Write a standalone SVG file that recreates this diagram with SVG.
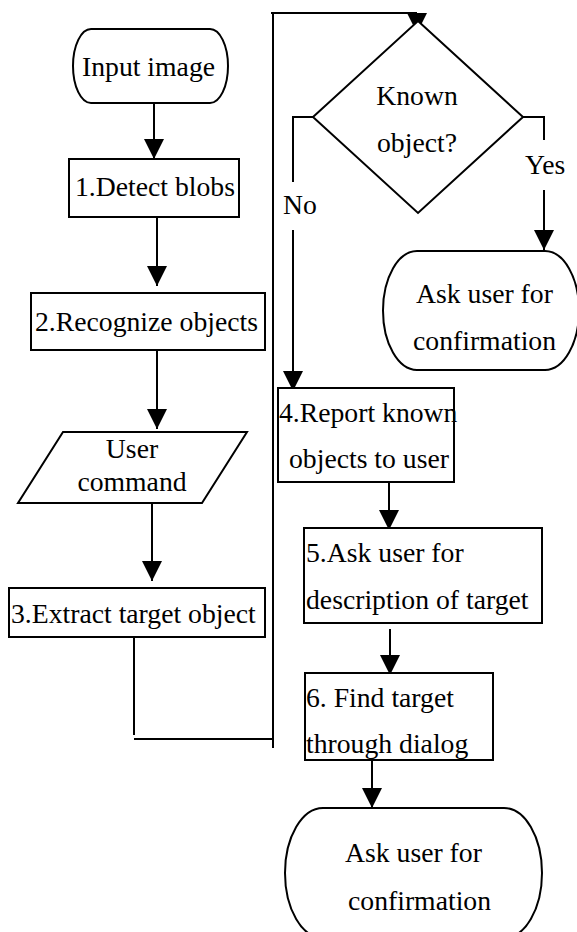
<svg xmlns="http://www.w3.org/2000/svg" width="577" height="932" viewBox="0 0 577 932">
<defs>
<marker id="ah" markerUnits="userSpaceOnUse" markerWidth="20" markerHeight="20" refX="20" refY="10" orient="auto" viewBox="0 0 20 20">
<path d="M0,0 L20,10 L0,20 Z" fill="#000"/>
</marker>
<style>
.s{fill:#fff;stroke:#000;stroke-width:2}
.c{fill:none;stroke:#000;stroke-width:2}
.a{marker-end:url(#ah)}
text{font-family:"Liberation Serif","Times New Roman",serif;font-size:27.7px;fill:#000}
.m{text-anchor:middle}
</style>
</defs>
<rect width="577" height="932" fill="#fff"/>
<g id="connectors">
<line class="c a" x1="154" y1="103" x2="154" y2="159"/>
<line class="c a" x1="157" y1="217" x2="157" y2="286"/>
<line class="c a" x1="157" y1="350" x2="157" y2="429"/>
<line class="c a" x1="152" y1="503" x2="152" y2="581"/>
<polyline class="c" points="134,637 134,735"/>
<polyline class="c" points="134,739 273,739"/>
<polyline class="c" points="273,748 273,13"/>
<polyline class="c" points="271,13 417,13"/>
<polygon points="407,13 427,13 417,33" fill="#000"/>
<polyline class="c" points="313,117 293,117 293,182"/>
<line class="c a" x1="293" y1="230" x2="293" y2="391"/>
<polyline class="c" points="523,117 544,117 544,140"/>
<line class="c a" x1="544" y1="190" x2="544" y2="250"/>
<line class="c a" x1="389" y1="482" x2="389" y2="530"/>
<line class="c a" x1="390" y1="629" x2="390" y2="675"/>
<line class="c a" x1="372" y1="757" x2="372" y2="808"/>
<text x="283" y="214">No</text>
<text x="525" y="174">Yes</text>
</g>
<g id="input">
<rect class="s" x="73" y="29" width="155" height="74" rx="18" ry="37"/>
<text x="82" y="76">Input image</text>
</g>
<g id="detect">
<rect class="s" x="69" y="159" width="170" height="58"/>
<text x="75" y="196">1.Detect blobs</text>
</g>
<g id="recognize">
<rect class="s" x="31" y="293" width="234" height="57"/>
<text x="35" y="331">2.Recognize objects</text>
</g>
<g id="command">
<polygon class="s" points="63,432 247,432 202,503 18,503"/>
<text class="m" x="132" y="458">User</text>
<text class="m" x="132" y="491">command</text>
</g>
<g id="extract">
<rect class="s" x="9" y="588" width="256" height="49"/>
<text x="11" y="623">3.Extract target object</text>
</g>
<g id="known">
<polygon class="s" points="418,21 523,117 418,213 313,117"/>
<text class="m" x="417" y="105">Known</text>
<text class="m" x="417" y="152">object?</text>
</g>
<g id="confirm1">
<rect class="s" x="383" y="251" width="196" height="119" rx="34" ry="59.5"/>
<text x="416" y="303">Ask user for</text>
<text x="413" y="350">confirmation</text>
</g>
<g id="report">
<rect class="s" x="278" y="388" width="176" height="94"/>
<text x="279" y="422">4.Report known</text>
<text x="289" y="468">objects to user</text>
</g>
<g id="ask">
<rect class="s" x="304" y="528" width="238" height="95"/>
<text x="306" y="562">5.Ask user for</text>
<text x="306" y="609">description of target</text>
</g>
<g id="find">
<rect class="s" x="305" y="673" width="188" height="87"/>
<text x="306" y="707">6. Find target</text>
<text x="306" y="753">through dialog</text>
</g>
<g id="confirm2">
<rect class="s" x="285" y="808" width="257" height="130" rx="38" ry="65"/>
<text x="345" y="862">Ask user for</text>
<text x="348" y="910">confirmation</text>
</g>
</svg>
